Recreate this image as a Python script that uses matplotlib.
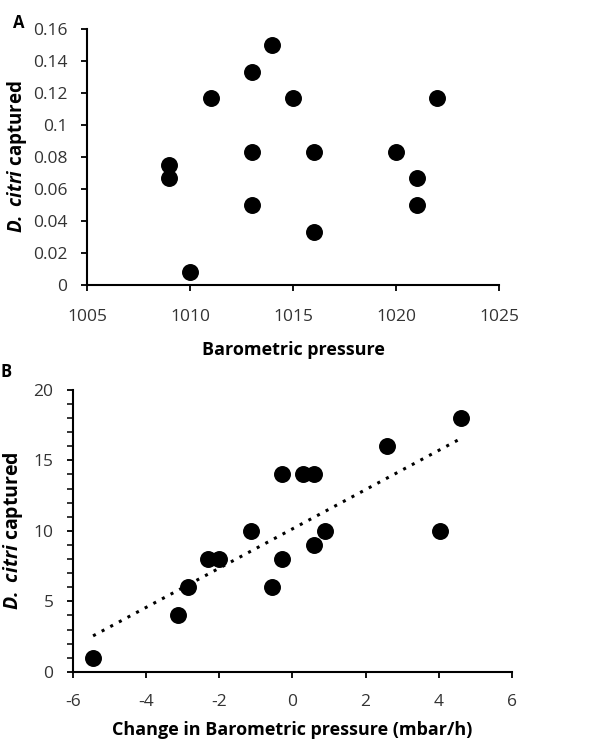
import numpy as np
import matplotlib.pyplot as plt
from matplotlib.ticker import MultipleLocator, FuncFormatter

plt.rcParams['font.family'] = ['Open Sans', 'DejaVu Sans']
plt.rcParams['mathtext.fontset'] = 'custom'
plt.rcParams['mathtext.bfit'] = 'Open Sans:italic:bold'
plt.rcParams['mathtext.it'] = 'Open Sans:italic'
plt.rcParams['axes.unicode_minus'] = False

# Панель A: давление и отлов
pressure = [1009, 1009, 1010, 1011, 1013, 1013, 1013, 1014, 1015, 1016, 1016, 1020, 1021, 1021, 1022]
captured_a = [0.075, 0.067, 0.008, 0.117, 0.133, 0.083, 0.050, 0.150, 0.117, 0.083, 0.033, 0.083, 0.067, 0.050, 0.117]

# Панель B: изменение давления и отлов
change = [-5.45, -3.13, -2.85, -2.31, -2.01, -1.12, -0.57, -0.29, -0.29, 0.29, 0.58, 0.58, 0.88, 2.58, 4.04, 4.6]
captured_b = [1, 4, 6, 8, 8, 10, 6, 14, 8, 14, 14, 9, 10, 16, 10, 18]

fig = plt.figure(figsize=(5.98, 7.44), dpi=100)

ylab = r'$\mathbfit{D.\ citri}$ captured'

# ---- A ----
ax1 = fig.add_axes([0.1455, 0.617, 0.689, 0.344])
ax1.scatter(pressure, captured_a, s=125, color='black', zorder=3, clip_on=False)
ax1.set_xlim(1005, 1025)
ax1.set_ylim(0, 0.16)
ax1.xaxis.set_major_locator(MultipleLocator(5))
ax1.yaxis.set_major_locator(MultipleLocator(0.02))
ax1.yaxis.set_major_formatter(FuncFormatter(lambda v, p: ('%.2f' % v).rstrip('0').rstrip('.') if v != 0 else '0'))
ax1.set_ylabel(ylab, fontsize=13.5, fontweight='bold', labelpad=3)
ax1.text(-0.18, 1.025, 'A', transform=ax1.transAxes, fontsize=12, fontweight='bold', ha='left', va='center')

# ---- B ----
ax2 = fig.add_axes([0.122, 0.097, 0.734, 0.379])
ax2.scatter(change, captured_b, s=125, color='black', zorder=3, clip_on=False)
k, c = np.polyfit(change, captured_b, 1)
xx = np.array([min(change), max(change)])
ax2.plot(xx, k * xx + c, color='black', linestyle=(0, (1, 2.2)), linewidth=2.2)
ax2.set_xlim(-6, 6)
ax2.set_ylim(0, 20)
ax2.xaxis.set_major_locator(MultipleLocator(2))
ax2.yaxis.set_major_locator(MultipleLocator(5))
ax2.yaxis.set_minor_locator(MultipleLocator(1))
ax2.set_ylabel(ylab, fontsize=14, fontweight='bold', labelpad=6)
ax2.text(-0.165, 1.065, 'B', transform=ax2.transAxes, fontsize=12, fontweight='bold', ha='left', va='center')

for ax in (ax1, ax2):
    ax.spines['top'].set_visible(False)
    ax.spines['right'].set_visible(False)
    ax.spines['left'].set_linewidth(1.5)
    ax.spines['bottom'].set_linewidth(1.5)
    ax.tick_params(which='major', length=4, width=1.3, labelsize=12.5, colors='black', labelcolor='#333333')
    ax.tick_params(which='minor', length=4, width=1.1)
ax1.tick_params(axis='x', which='major', pad=13)
ax1.tick_params(axis='y', which='major', pad=10)
ax2.tick_params(axis='x', which='major', pad=12)
ax2.tick_params(axis='y', which='major', pad=10)

ax1.set_xlabel('Barometric pressure', fontsize=13, fontweight='bold', labelpad=12)
ax2.set_xlabel('Change in Barometric pressure (mbar/h)', fontsize=13, fontweight='bold', labelpad=8)

fig.savefig('out.png', dpi=100)
